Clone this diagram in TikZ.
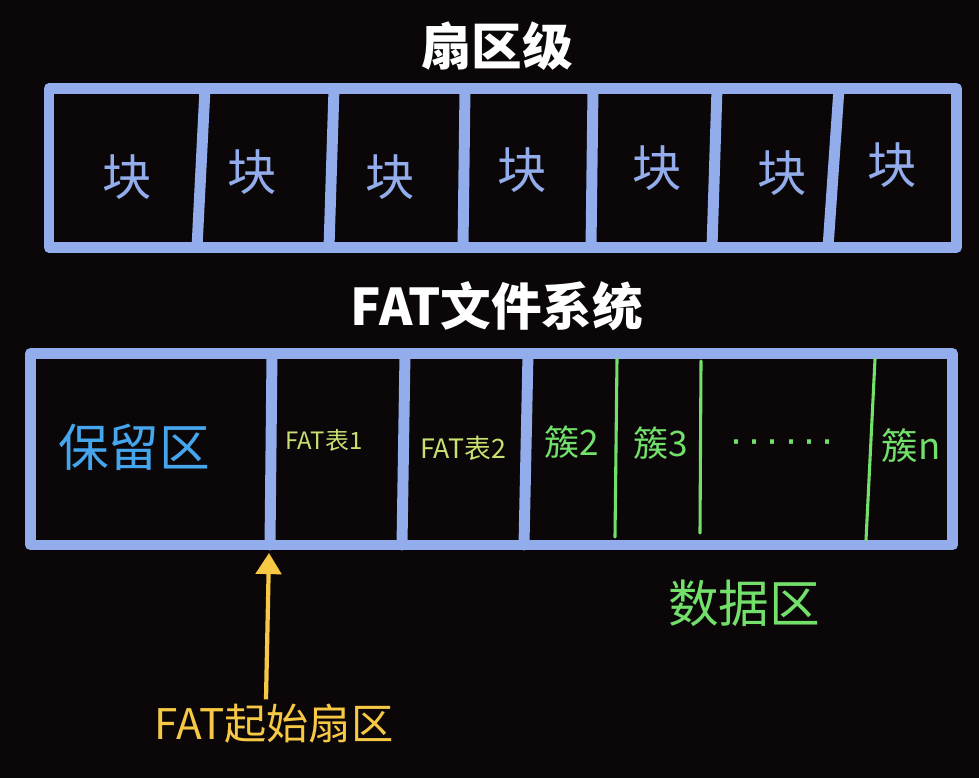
\documentclass[tikz,border=0pt]{standalone}
\usepackage{tkz-euclide}
\usepackage{tikz}
\usepackage{fontspec}
\usetikzlibrary{arrows.meta}
\newfontfamily\cjk{Noto Sans CJK SC}
\newfontfamily\latin{Liberation Sans}
\definecolor{bgdark}{HTML}{0B0709}
\definecolor{frameblue}{HTML}{93ADEC}
\definecolor{resblue}{HTML}{45A6EE}
\definecolor{fatlime}{HTML}{C8E070}
\definecolor{clgreen}{HTML}{72E06A}
\definecolor{startyellow}{HTML}{F7C844}
\tikzset{
  block/.style={text=frameblue, font=\cjk\fontsize{35}{35}\selectfont},
  title/.style={text=white, font=\cjk\bfseries\fontsize{36}{36}\selectfont},
  cluster/.style={text=clgreen, font=\cjk\fontsize{25}{25}\selectfont},
  fattab/.style={text=fatlime, inner sep=0pt}
}

\begin{document}
\begin{tikzpicture}[x=0.025cm, y=-0.025cm]
    \fill[bgdark] (0,0) rectangle (979,778);
    \useasboundingbox (0,0) rectangle (979,778);
    % sector level
    \tkzDefPoints{49/88.5/A,956.5/88.5/B,956.5/247.5/C,49/247.5/D}
    \tkzDefPoints{205/88.5/a1,197/247.5/a2,334/88.5/b1,329/247.5/b2,465/88.5/c1,463/247.5/c2}
    \tkzDefPoints{593/88.5/d1,591/247.5/d2,717/88.5/e1,712/247.5/e2,839/88.5/f1,828/247.5/f2}
    \tkzDrawPolygon[color=frameblue, line width=7.8pt](A,B,C,D)
    \tkzDrawSegments[color=frameblue, line width=7.8pt](a1,a2 b1,b2 c1,c2 d1,d2 e1,e2 f1,f2)
    \node[title] (sect) at (497,46) {扇区级};
    \node[block] (k1) at (127,177) {块};
    \node[block] (k2) at (252,172) {块};
    \node[block] (k3) at (390,177) {块};
    \node[block] (k4) at (522,170) {块};
    \node[block] (k5) at (657,168) {块};
    \node[block] (k6) at (782,173) {块};
    \node[block] (k7) at (892,165) {块};
    % FAT file system
    \tkzDefPoints{30.5/353.5/E,952.5/353.5/F,952.5/545/G,30.5/545/H}
    \tkzDefPoints{272/353.5/p1,270/545/p2,405/353.5/q1,402/545/q2,528/353.5/r1,524/545/r2}
    \tkzDefPoints{617/359/u1,615/537/u2,701/361/v1,700/533/v2,875/359/w1,866/540/w2}
    \tkzDrawPolygon[color=frameblue, line width=7.8pt](E,F,G,H)
    \tkzDrawSegments[color=frameblue, line width=7.8pt](p1,p2 q1,q2 r1,r2)
    \tkzDrawSegments[color=clgreen, line width=2.2pt](u1,u2 v1,v2 w1,w2)
    \node[title] (fs) at (497,306) {FAT文件系统};
    \node[text=resblue, font=\cjk\fontsize{36}{36}\selectfont] (res) at (134,447) {保留区};
    \node[fattab, font=\cjk\fontsize{17}{17}\selectfont] (fat1) at (324,440) {FAT表1};
    \node[fattab, font=\cjk\fontsize{19}{19}\selectfont] (fat2) at (463,448) {FAT表2};
    \node[cluster] (c2) at (572,442) {簇2};
    \node[cluster] (c3) at (661,443) {簇3};
    \node[text=clgreen, inner sep=0pt, font=\latin\fontsize{30}{30}\selectfont] (dots) at (782,447)
        {·\kern3pt·\kern3pt·\kern3pt·\kern3pt·\kern3pt·};
    \node[cluster, font=\cjk\fontsize{26}{26}\selectfont] (cn) at (911,446) {簇n};
    \node[text=clgreen, font=\cjk\fontsize{36}{36}\selectfont] (data) at (744,603) {数据区};
    % start sector
    \node[text=startyellow, font=\cjk\fontsize{30}{30}\selectfont] (start) at (274,724) {FAT起始扇区};
    \coordinate (tip) at (269,553);
    \draw[startyellow, line width=3pt, -{Triangle[width=18pt, length=15pt]}] (start.north -| 266,0) -- (tip);
\end{tikzpicture}
\end{document}
